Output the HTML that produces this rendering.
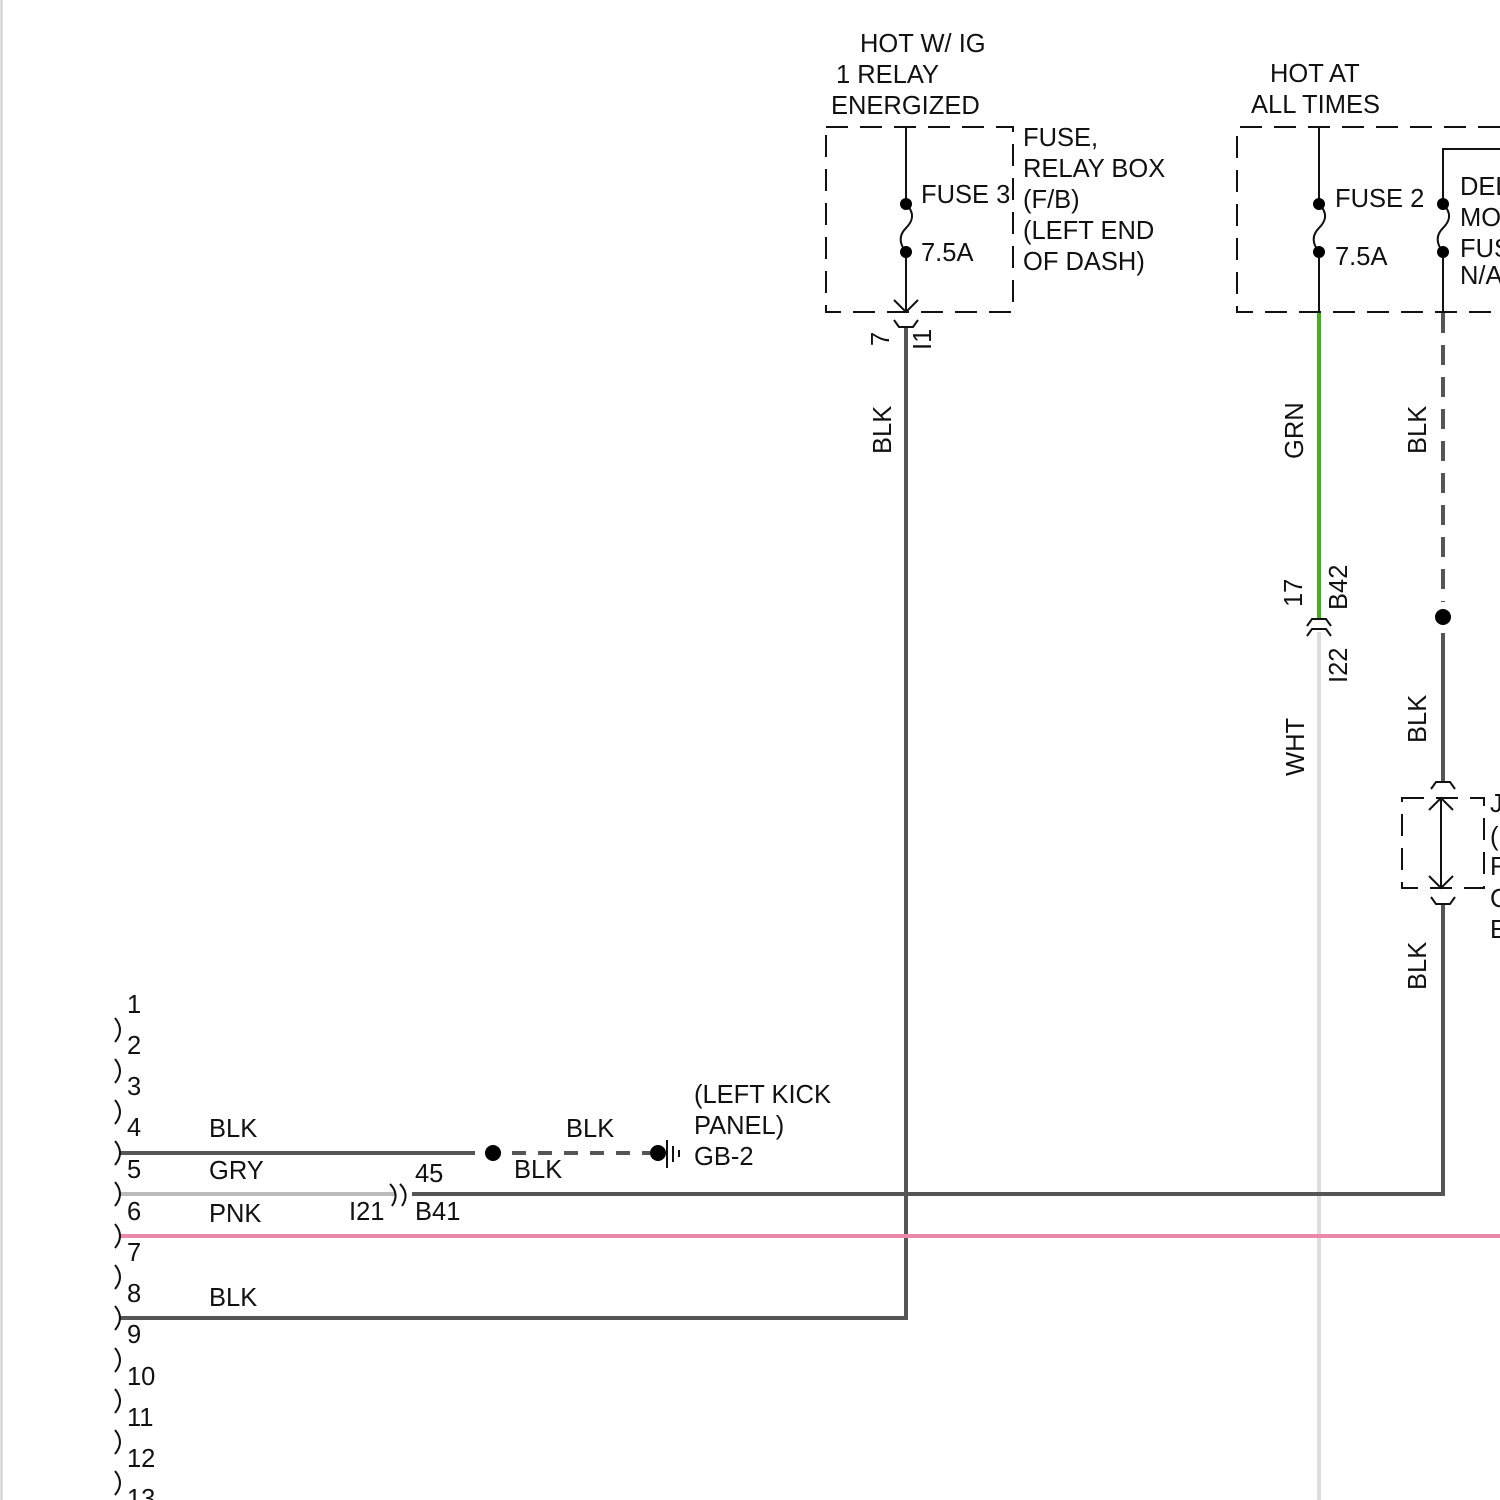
<!DOCTYPE html>
<html><head><meta charset="utf-8"><style>
html,body{margin:0;padding:0;background:#fff;}
svg{display:block;font-family:"Liberation Sans",sans-serif;}
text{font-size:25.5px;fill:#111;}
</style></head><body>
<svg width="1500" height="1500" viewBox="0 0 1500 1500" xmlns="http://www.w3.org/2000/svg">
<line x1="1.5" y1="0" x2="1.5" y2="1500" stroke="#ccc" stroke-width="2"/>
<text x="860" y="52">HOT W/ IG</text>
<text x="836" y="83">1 RELAY</text>
<text x="831" y="114">ENERGIZED</text>
<text x="1270" y="82">HOT AT</text>
<text x="1251" y="113">ALL TIMES</text>
<text x="1023" y="146">FUSE,</text>
<text x="1023" y="177">RELAY BOX</text>
<text x="1023" y="208">(F/B)</text>
<text x="1023" y="239">(LEFT END</text>
<text x="1023" y="270">OF DASH)</text>
<rect x="826" y="127" width="187" height="185" fill="none" stroke="#111" stroke-width="2" stroke-dasharray="22,12"/>
<line x1="906" y1="127" x2="906" y2="204" stroke="#111" stroke-width="2"/>
<path d="M906 204 C916 214,912 222,906 228 C900 234,898 242,906 252" fill="none" stroke="#111" stroke-width="2"/>
<line x1="906" y1="252" x2="906" y2="312" stroke="#111" stroke-width="2"/>
<circle cx="906" cy="204" r="6" fill="#000"/><circle cx="906" cy="252" r="6" fill="#000"/>
<path d="M894 300 L906 312 L918 300" fill="none" stroke="#111" stroke-width="2"/>
<path d="M894 320 L899 327 L913 327 L918 320" fill="none" stroke="#111" stroke-width="2"/>
<text x="921" y="203">FUSE 3</text><text x="921" y="261">7.5A</text>
<path d="M1500 127 H1237 V312 H1500" fill="none" stroke="#111" stroke-width="2" stroke-dasharray="22,12"/>
<line x1="1319" y1="127" x2="1319" y2="204" stroke="#111" stroke-width="2"/>
<path d="M1319 204 C1329 214,1325 222,1319 228 C1313 234,1311 242,1319 252" fill="none" stroke="#111" stroke-width="2"/>
<line x1="1319" y1="252" x2="1319" y2="312" stroke="#111" stroke-width="2"/>
<circle cx="1319" cy="204" r="6" fill="#000"/><circle cx="1319" cy="252" r="6" fill="#000"/>
<text x="1335" y="207">FUSE 2</text><text x="1335" y="265">7.5A</text>
<path d="M1500 149 H1443 V204" fill="none" stroke="#111" stroke-width="2"/>
<path d="M1443 204 C1453 214,1449 222,1443 228 C1437 234,1435 242,1443 252" fill="none" stroke="#111" stroke-width="2"/>
<line x1="1443" y1="252" x2="1443" y2="312" stroke="#111" stroke-width="2"/>
<circle cx="1443" cy="204" r="6" fill="#000"/><circle cx="1443" cy="252" r="6" fill="#000"/>
<text x="1460" y="195">DEL</text><text x="1460" y="226">MO</text><text x="1460" y="257">FUS</text><text x="1460" y="284">N/A</text>
<polyline points="906,328 906,1318 120,1318" fill="none" stroke="#555" stroke-width="4"/>
<line x1="1319" y1="313" x2="1319" y2="620" stroke="#44b020" stroke-width="4"/>
<line x1="1319" y1="632" x2="1319" y2="1500" stroke="#ddd" stroke-width="4"/>
<path d="M1307 626 L1312 619 L1326 619 L1331 626 M1307 636 L1312 629 L1326 629 L1331 636" fill="none" stroke="#111" stroke-width="2"/>
<line x1="1443" y1="313" x2="1443" y2="602" stroke="#555" stroke-width="4" stroke-dasharray="20,12"/>
<circle cx="1443" cy="617" r="8" fill="#000"/>
<line x1="1443" y1="633" x2="1443" y2="782" stroke="#555" stroke-width="4"/>
<path d="M1431 789 L1436 782 L1450 782 L1455 789" fill="none" stroke="#111" stroke-width="2"/>
<rect x="1402" y="798" width="82" height="90" fill="none" stroke="#111" stroke-width="2" stroke-dasharray="22,12"/>
<line x1="1441" y1="798" x2="1441" y2="888" stroke="#111" stroke-width="2"/>
<path d="M1429 810 L1441 798 L1453 810 M1429 876 L1441 888 L1453 876" fill="none" stroke="#111" stroke-width="2"/>
<path d="M1431 897 L1436 904 L1450 904 L1455 897" fill="none" stroke="#111" stroke-width="2"/>
<text x="1490" y="812">J</text><text x="1490" y="845">(</text><text x="1490" y="875">F</text><text x="1490" y="907">C</text><text x="1490" y="938">E</text>
<polyline points="1443,905 1443,1194 412,1194" fill="none" stroke="#555" stroke-width="4"/>
<line x1="120" y1="1194" x2="395" y2="1194" stroke="#bbb" stroke-width="4"/>
<path d="M390 1184 Q400 1194 392 1206 M400 1184 Q410 1194 402 1206" fill="none" stroke="#111" stroke-width="2"/>
<line x1="120" y1="1236" x2="1500" y2="1236" stroke="#ee88aa" stroke-width="4"/>
<line x1="120" y1="1153" x2="475" y2="1153" stroke="#555" stroke-width="4"/>
<circle cx="493" cy="1153" r="8" fill="#000"/>
<line x1="512" y1="1153" x2="650" y2="1153" stroke="#555" stroke-width="4" stroke-dasharray="14,12"/>
<circle cx="658" cy="1153" r="8" fill="#000"/>
<line x1="667" y1="1140" x2="667" y2="1168" stroke="#111" stroke-width="2"/>
<line x1="673" y1="1146" x2="673" y2="1162" stroke="#111" stroke-width="2"/>
<line x1="679" y1="1150" x2="679" y2="1157" stroke="#111" stroke-width="2"/>
<g fill="none" stroke="#111" stroke-width="2">
<path d="M115 1018 Q125 1030 115 1042 M115 1059 Q125 1071 115 1083 M115 1100 Q125 1112 115 1124 M115 1141 Q125 1153 115 1165 M115 1182 Q125 1194 115 1206 M115 1224 Q125 1236 115 1248 M115 1265 Q125 1277 115 1289 M115 1306 Q125 1318 115 1330 M115 1348 Q125 1360 115 1372 M115 1389 Q125 1401 115 1413 M115 1430 Q125 1442 115 1454 M115 1471 Q125 1483 115 1495"/>
</g>
<text x="127" y="1013">1</text><text x="127" y="1054">2</text><text x="127" y="1095">3</text><text x="127" y="1136">4</text><text x="127" y="1178">5</text><text x="127" y="1220">6</text><text x="127" y="1261">7</text><text x="127" y="1302">8</text><text x="127" y="1343">9</text><text x="127" y="1385">10</text><text x="127" y="1426">11</text><text x="127" y="1467">12</text><text x="127" y="1507">13</text>
<text x="209" y="1137">BLK</text><text x="209" y="1179">GRY</text><text x="209" y="1222">PNK</text><text x="209" y="1306">BLK</text>
<text x="415" y="1182">45</text><text x="349" y="1220">I21</text><text x="415" y="1220">B41</text>
<text x="566" y="1137">BLK</text><text x="514" y="1178">BLK</text>
<text x="694" y="1103">(LEFT KICK</text><text x="694" y="1134">PANEL)</text><text x="694" y="1165">GB-2</text>
<text transform="translate(891,454) rotate(-90)">BLK</text>
<text transform="translate(889,346) rotate(-90)">7</text>
<text transform="translate(931,350) rotate(-90)">I1</text>
<text transform="translate(1303,459) rotate(-90)">GRN</text>
<text transform="translate(1302,607) rotate(-90)">17</text>
<text transform="translate(1347,610) rotate(-90)">B42</text>
<text transform="translate(1347,683) rotate(-90)">I22</text>
<text transform="translate(1304,776) rotate(-90)">WHT</text>
<text transform="translate(1426,454) rotate(-90)">BLK</text>
<text transform="translate(1426,743) rotate(-90)">BLK</text>
<text transform="translate(1426,990) rotate(-90)">BLK</text>
</svg>
</body></html>
